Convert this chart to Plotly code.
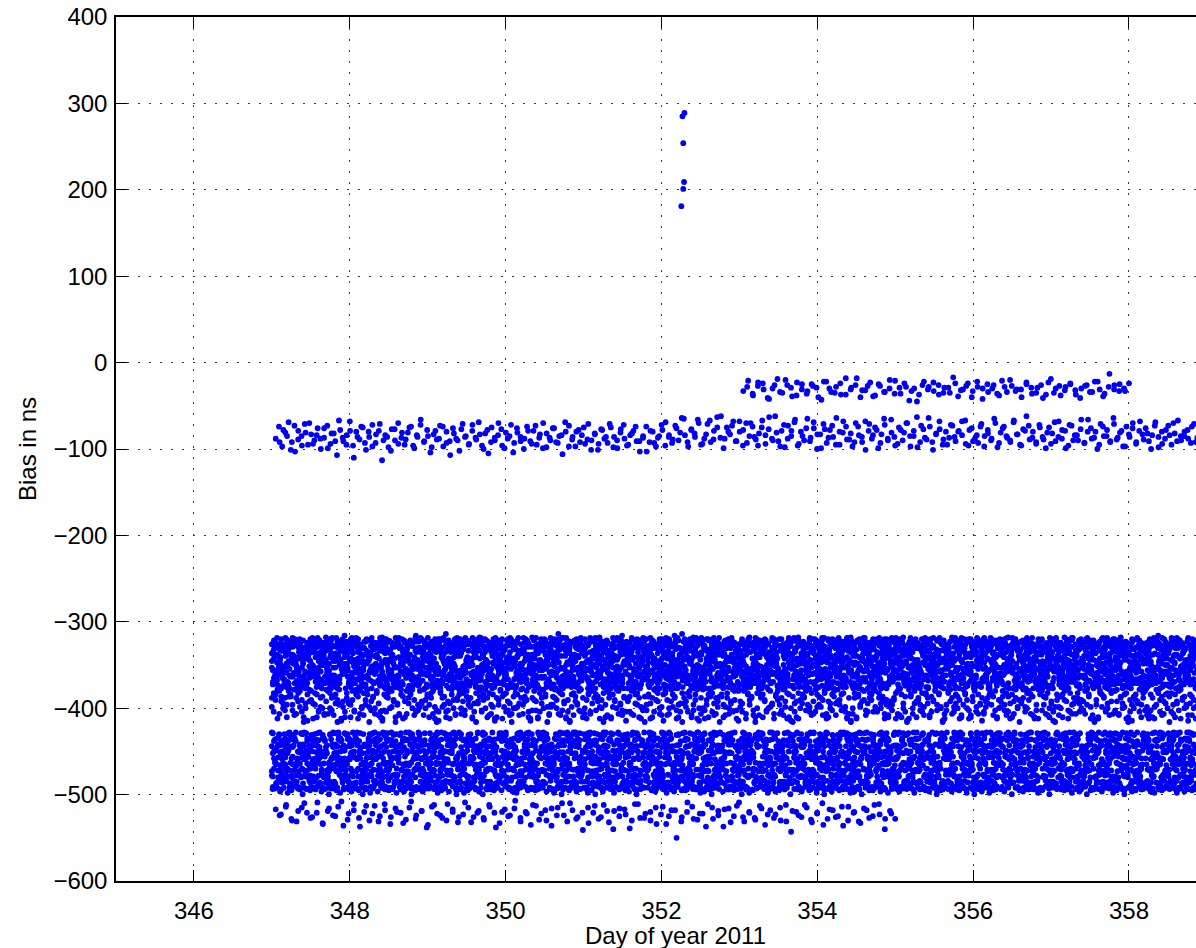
import numpy as np
import plotly.graph_objects as go

# ---- observation spans (day of year 2011) ----
DENSE_START, DENSE_END = 347.0, 359.0

# ---- isolated excursion near day 352.3 (ns) ----
spike_day = [352.295, 352.27, 352.28, 352.29, 352.28, 352.255]
spike_bias = [289, 285, 254, 209, 201, 181]

# ---- sparse bands: magnitudes of the (negative) bias in ns, in time order ----
# each band is logged by two receivers with their own epoch grids
mid_band_a = """
88 74 97 81 69 92 103 79 85 71 95 83 90 76 100 87 73 94 82 107 78 91 84 68 96 80 89 75 101 86 72 93 79 113 84 98 77 90 70 87
95 81 74 99 86 66 92 78 104 83 89 73 97 80 91 76 88 102 71 85 94 79 87 69 96 82 105 75 90 84 77 99 88 72 93 81 86 100 74 91
79 95 83 70 98 87 76 92 85 106 80 73 89 97 78 84 94 71 90 82 101 77 88 93 75 86 99 81 72 96 84 79 91 103 87 74 92 80 97 85
78 69 86 93 73 90 64 84 97 77 82 66 95 88 71 92 79 63 87 99 75 83 68 91 80 96 70 85 74 89
82 67 94 77 88 62 91 79 98 73 85 69 96 80 90 65 87 76 100 83 71 93 78 86 64 95 81 74 89 97 70 84 92 68 79 88 75 99 83 72
90 66 86 94 78 81 70 97 85 63 92 77 89 74 101 82 68 95 80 87 73 91 79 84 67 96 76 88 93 71 85 78 90 65 98 81 74 87 92 69
83 95 77 62 89 80 94 72 86 99 75 82 91 68 88 79 96 73 84 90 66 93 80 76 87 100 71 85 78 92 64 89 81 97 74 86 70 94 79 83
76 91 84 69 98 80 88 73 95 82 67 90 85 78 93 71 87 102 75 84
"""
mid_band_b = """
92 78 85 101 73 89 96 81 70 94 84 88 76 99 82 91 67 87 95 79 110 86 74 93 80 97 83 71 90 86 102 77 94 81 89 75 96 84 72 91
85 98 79 88 74 93 107 82 90 77 86 95 72 89 83 100 78 92 87 70 96 81 85 104 76 91 88 79 94 73 87 99 82 90 76 93 84 69 97 86
80 92 75 89 101 83 94 78 86 71 98 90 77 88 95 82 74 91 85 103 79 93 87 72 96 84 89 76 81 65 92 78 86 70 94 83 67 89 75 62
88 80 73 91 68
78 93 70 86 96 75 84 63 90 81 97 72 88 79 66 94 85 76 91 69 83 99 77 87 73 95 80 68 89 82 92 74 86 101 71 84 78 93 65 88
81 96 75 90 70 85 79 98 73 87 64 92 83 77 89 95 72 86 80 68 94 78 91 84 74 97 82 88 70 93 76 85 90 67 83 96 79 73 87 92
75 89 81 94 69 86 78 99 72 90 84 77 93 66 88 80 95 74 85 91 71 87 79 97 83 76 92 68 89 82 100 73 86 94 78 84 70 91 85 80
88 74 92 79 86
"""

branch_a = """
33 21 38 27 24 41 30 19 35 26 39 23 31 36 25 29 43 22 34 28 37 18 31 26 40 32 23 38 27 34 20 36 29 24 44 30 37 22 28 33
26 35 29 17 39 31 24 33 28 42 25 30 36 21 34 27 31 40 23 29 35 26 37 19 30 38 28 25 32 41 27 34 22 31 36 13 26 33 30 24
"""
branch_b = """
28 36 23 31 42 26 34 20 29 38 25 33 27 40 22 30 35 24 37 29 18 32 27 39 25 34 30 21 36 28 33 45 26 31 23 37 29 35 24 32
27 40 22 30 34 26 38 28 20 33 31 25 36 29 41 23 35 27 32 24 37 30 26 34 22 39 28 31 25 33
"""

low_a = """
517 523 512 528 531 515 521 526 509 533 519 524 514 536 522 511 527 520 530 513 525 518 534 516 521 529 508 524 519 538 514 522 527 511 520 532 523 515 526 519
529 512 521 533 517 524 507 527 520 535 513 522 530 516 524 510 531 518 526 541 515 521 528 512 532 519 525 517 539 511 527 522 530 515 523 534 518 550 526 520
514 529 522 511 528 519 537 516 525 509 531 521 527 513 535 518 523 530 512 543 520 526 515 532 522 510 528 518 525 536 514 521 531 516 527 512 523 540 519 528
"""
low_b = """
524 514 530 519 510 527 521 534 516 525 508 529 518 537 513 522 531 511 526 520 533 515 528 519 535 512 524 530 517 526 509 532 521 527 514 538 520 525 516 531
522 512 529 518 536 515 524 510 528 521 533 513 526 519 540 516 523 530 511 527 520 534 514 525 518 531 509 528 522 537 515 524 517 532 513 526 520 529 516 523
527 515 531 519 524 512 529 521 535 517 526 514 530 520 533 518 525 511 528 522
"""

# (magnitudes, first day, last day)
sparse_series = [
    (mid_band_a, 347.05, 359.0),
    (mid_band_b, 347.10, 358.95),
    (branch_a, 353.05, 358.0),
    (branch_b, 353.10, 357.95),
    (low_a, 347.05, 355.0),
    (low_b, 347.10, 354.95),
]

# ---- dense bands: one digit per epoch, bias = base + step * digit ----
UPPER_STEP = 6.0
upper_core = {
    -377.0: """
4729158360 2847391056 8315067294 5608132497 3962841705 7153926084 2480615937 6094728351 1837506249 9526370418
3681945270 5729036184 1460857392 8035241697 2917563048 6352980174 4806135729 0573462918 7291804365 5138796240
9246071853 3705892416 6813524097 1598036274 4072619835 8361742059 2954187360 7630295148 0427538916 5189460273
3852017469 6045283917 9713650842 2386974105 5901427638 1674085293 8257316940 4130598762 7498261035 0563749281
6285930714 3917482056 5042768193 8731095624 2169547380 4596203817 7328159406 9014836275 1653974028 3870612549
5407281936 2961358074 8139046752 6782503419 0354178269 4826937150 1593064827 7240815396 9675230148 3018697452
7562049318 1849637205 4320175986 9076842531 2615390874 5793168042 8041527639 3468901275 6187254930 0952736184
2394687510 6730914826 9158302647 4506871293 1872436059 7029563418 3645190782 8361725094 5297048361 0713859246
8150369274 4627185903 2983740516 5314926087 7069853142 1485032679 6732491850 3908617425 9241576308 4576203891
""",
    -375.5: """
5193826470 7346015829 2658493071 9031764582 4810259367 6274830915 1509627438 8362150794 3947081652 0725394186
6481273905 1937568240 8024316957 3659802174 7213945680 5846027319 0371659842 9582714063 2690483517 4158360729
7036915428 3862074195 5417239860 9804526731 1275398046 6391840572 4729056183 0548371962 8163927504 2950618437
4625801397 9178352640 0893741256 6341209875 3587462019 1026985734 7460139528 5219874306 8704563192 3936207481
1578046293 6402938175 9361507842 2847619530 5093287416 7625134098 0184756329 4738290651 3915462807 8260371945
6947312085 2085463917 4716820359 8530197264 1392685740 5804731926 7269048153 9153672480 3421809576 0678254139
9320754618 5761493802 1248376950 7093581246 3657029184 8416295307 2975813064 6132740859 4509168273 0884539621
2716980354 8459021763 6093847125 3274165098 9501732846 4138956270 7862403519 1347689052 5620318947 9285407136
4063291587 1592846370 7830512694 5468973012 0217654839 8945120376 3372095618 6609438751 2186754903 7521369480
""",
    -374.0: """
8372610459 3018947265 6594132807 1260785934 9738206154 4851397620 2106845793 7643059218 5489721036 0925613874
3617048295 9452736108 1280594637 7806321549 5043917862 2368450971 8791263405 4175089326 6932704518 0524876193
1846395027 7029158436 4361720985 9587403612 2713956840 6140287359 3896514072 8452639701 0274081563 5609372814
7983150426 2418697350 5736024189 0159376248 8647219503 3205841967 9520763184 1873592640 6391408275 4062715938
2590831764 8156203497 3418975620 6702348159 1965032748 5384176092 0837529416 7201964853 4679850321 9143287605
6027549183 1763082954 9495136720 3250617849 8586273041 2719458306 4072391568 7348605297 5261840739 0938172465
3854926710 6287034159 1530798642 8149265307 4903817526 7062451983 2675139840 9318706254 0456982173 5791324068
9162483057 4638192705 7024569381 2587306914 6341825079 0893746152 3710958426 1456037298 8279641530 5014283796
1786054329 9345271806 5012683947 3694150728 7530942681 2168375094 8407519263 6921084375 4253796108 0879362514
""",
    -372.5: """
6058193742 2719460385 9482307516 4105876239 7326951408 1873240695 5690718324 3247085961 8915362047 0461539782
4385902716 7032618459 1897450263 6524183097 3149726580 9671035842 2806594317 5213847690 0768239154 8459160273
5926473018 1384096527 8670325149 3051782964 6497218305 2135906478 7748351092 4062587319 9319640285 1587023946
2763189405 6925740831 3418052697 0592376148 8254619730 4873205916 1306987452 7641358029 5182064387 9037415268
7841526093 3069817254 6257390418 9413062785 1798254630 5620478139 2354196807 8086731542 4927845301 0715382964
3192758046 8541063927 2605847319 7936215804 4378592061 1059378426 6824103759 9467520183 0283916574 5730649218
9507384612 4216957830 7843026195 1358749260 6090185347 3752460918 5189237604 2624817093 8471396250 0936548172
1670283945 5398724106 3025169874 8942510367 2714086593 6583937021 0457862139 9126340785 4301958627 7862015349
4239516078 0754839261 8586024713 3193678540 6847210396 1378549602 5062193847 9715386024 2930741568 6409852731
""",
}

# ragged top edge of the upper band
EDGE_TOP_BASE, EDGE_TOP_STEP = -330.0, 2.0
upper_edge = """
2130412503 1420631207 3152041306 2415032170 4231508213 0342161403 2513042316 0241358120 3140251603 2417031520
1305241708 3261405132 0423150631 4120352014 6302143051 2431604213 0512340261 3401521430 2613045120 3142056213
4021350142 3605213041 2531406123 0421357102 4130520316
"""

FRINGE_STEP = 4.0
upper_fringe = {
    -416.0: """
7381964759 8527693048 6915837426 9472805163 7659381942 5806749231 8374960528 1697842359 6248579103 9753618427
8462957130 6938472581 7591836204 4827569317 9613748025 5749286130 8265937418 3978614052 7186495273 6392857140
5817396428 9246871530 7639258147 4158932760 8527463919 6391857204 2786349518 9572618403 6148795326 3857291648
9265843170 4718569237 8393746152 6571928430 1849675328 7236958401 5967384125 8412693857 3678529146 9523186740
6734982151 8957246308 2489613576 7346958120 5198734269 9627481035 4863579218 7159326840 3586917452 8241695037
""",
    -414.5: """
4869275317 7392846150 9658134729 2837569041 8516397248 6943728510 3789461529 7125896334 5967182430 8471359626
9283764158 5736918240 1697483527 8459276103 6318597424 7962835160 4875391268 2593746819 8146925370 6729581437
3751968240 8629473158 5487136902 9361785247 7148259630 4592867318 8716394527 6239481075 1865739482 9474682153
7596384120 2817496358 6943857261 4368291570 9725163848 5176938402 3892457619 8631794250 2459873164 7387512946
5948627139 9372815046 4716938252 8563297410 6184735982 3927548160 7659183423 1498672587 8215396740 5764938218
""",
}

LOWER_STEP = 7.0
lower_dense = {
    -494.0: """
3685172940 5247368192 7918453026 1563824795 8402657139 2876139547 6135948270 4792056318 9350871624 0627493851
5184736290 7836254918 2569018743 6341975820 4798503162 1452368970 8237641595 3916782054 6073451829 9581240736
2749863015 6058317429 4813592670 8265740193 1397286054 5624801937 3981657420 7406239518 0532984761 8169375243
4570291638 1382756904 9746318025 3528064179 6813479250 2095138647 7264905813 5431872096 8657023419 1928546370
6341529708 8619473052 3087265941 7254918306 0962347518 4173850629 5806192734 9238761405 2419607853 7750438129
1896350427 4721693805 6358017294 2043586179 8571942630 3614829057 9482305716 6125734089 7356481920 0837261594
5203748619 9465182073 1730694528 6892375140 3248109657 7561438920 2917456308 8354026791 4086597132 6679310248
8427063195 2198547360 7653928014 4310786259 9025471836 5738162940 1469850372 3852694107 6547318209 0291647853
3164985720 6873219405 0542761839 5286340917 1798053264 8640127593 4317598620 9025816347 2783459061 7148936502
""",
    -493.0: """
7250413968 1694827305 4381506729 9725360148 2956781430 6813249057 0467935812 5349178620 8102654397 3578942061
6839271504 3206485917 9571634280 1842097365 7495312806 5028763149 2764150938 8637429510 4193856072 0918564723
4125698370 8760342159 2396185407 7053629841 5614870932 9487213065 1738946250 3259071684 6843502719 2571938046
9406387521 5839124067 1267850394 6485973210 3092416758 7715308462 4381657920 0626839147 8159472036 5943260817
2731940856 7162859043 8590613472 3417586209 6928041735 1054397268 5863120974 9497635182 0349276510 4680158397
8365712409 0543896172 6217054983 1789430625 4652187309 9370561842 3096824517 7831249056 5127908364 2458613790
1592678043 6928403517 3745169280 8051736492 2479085136 5136472908 7264950381 4793186025 9810524673 0387162945
6074239815 3451978620 9802613574 2136854097 7685249031 4318906752 0941375268 8569420137 1257693840 5726831409
4817506392 8269143750 2653890147 7031625489 5496317028 1789452603 6328074915 3940581276 8015269734 9462738051
""",
    -492.0: """
2968405173 6415379082 8732160495 3059487216 7184925630 4627301859 1590846327 9348152706 5873690214 0216754938
7523810469 3980472615 6157938024 2849160357 8361725940 0794536281 5438209617 1682947053 9206358741 4875103692
6049273158 1537860429 4982617305 8376054912 2615398740 7830142659 3194587026 5468230971 9721964083 0357829416
3810957264 9274631085 7653289140 1429506837 5086743219 8962170543 2357894016 6731428950 4598016327 7146593208
8592146730 2306879514 5148023967 9617352408 0893415726 3471968052 7265130894 1934786205 6802459371 4519207638
1357690842 7841253096 3926718405 6083947521 8710534269 2459861730 5642079183 9128306574 0376195428 6984512037
5726038914 4092685173 8613479052 1875260349 3248917605 6537042981 9061853247 2794315860 8409726135 7135084692
9483216507 1658940237 5270381964 8346129750 6925873418 0147596023 4809632175 3571084926 2634751809 5058263471
0237549186 8914706352 2796853041 4561237098 7138062945 3850419762 6293175804 9702846531 1485920673 7649318025
""",
    -491.0: """
9034687152 2758136940 5189402763 7926851304 1437069528 8562143079 3705928416 6241873095 0893561247 4378205619
1865302974 8413597026 3240761859 6197428530 5982036714 2631875049 7059364182 4726190853 9184532760 0547618293
5729146038 3096725481 8652490173 1378562049 4817036925 7243619580 0965284317 6482157903 2514938670 9190374526
6381759420 7524068319 2943185067 5069723841 8105476932 3658210794 1739645208 4815392076 7290863415 0476531982
3147520869 9862314705 6508791243 2936458017 7471093562 1089526734 5623847190 8350174629 4912865307 6735209148
8216493057 4370815692 1954267380 7589130426 3062748915 9418536201 2847091563 6195342087 0531679284 5784260319
2659038471 6103742958 9481567023 3826495170 5743016829 1267859304 8095321746 4538607192 7360284915 0912473658
7408156293 5826937014 3174208569 9052361847 6389154702 2764093581 4617825930 8943710265 1205384796 3581692740
4963271085 0147586392 6832049157 2495713608 8710632549 5354908216 7028164935 1679253480 9896147023 2413870569
""",
}

# ragged bottom edge of the lower band
EDGE_LOW_BOT_BASE, EDGE_LOW_BOT_STEP = -504.0, 1.5
lower_bottom_edge = """
7958469837 6895739648 8596374958 9674859367 5897468593 7469853796 8697548967 6985749386 9578463958 7489659378
8659748596 6978459387 5896739468 9748569837 7596849375 8697459386 6958479597 9487659368 7596948375 8469759386
5978469397 8694759368 7589469385 6978548697 9485769358
"""

X_TICKS = [346, 348, 350, 352, 354, 356, 358]
Y_TICKS = [-600, -500, -400, -300, -200, -100, 0, 100, 200, 300, 400]

MARKER = dict(color="#0000f2", size=5.8, line=dict(width=0))


def magnitudes(text):
    return -np.array(text.split(), dtype=float)


def digits(text, base, step):
    d = np.array([int(c) for c in text if c.isdigit()], dtype=float)
    return base + step * d


days, bias = [], []


def add(y, t0, t1):
    days.append(np.linspace(t0, t1, len(y)))
    bias.append(np.asarray(y, dtype=float))


for base, txt in upper_core.items():
    add(digits(txt, base, UPPER_STEP), DENSE_START, DENSE_END)
add(digits(upper_edge, EDGE_TOP_BASE, EDGE_TOP_STEP), DENSE_START + 0.02, DENSE_END)
for base, txt in upper_fringe.items():
    add(digits(txt, base, FRINGE_STEP), DENSE_START, DENSE_END)
for base, txt in lower_dense.items():
    add(digits(txt, base, LOWER_STEP), DENSE_START, DENSE_END)
add(digits(lower_bottom_edge, EDGE_LOW_BOT_BASE, EDGE_LOW_BOT_STEP), DENSE_START + 0.01, DENSE_END)
for txt, t0, t1 in sparse_series:
    add(magnitudes(txt), t0, t1)

x_all = np.concatenate(days + [np.array(spike_day, float)])
y_all = np.concatenate(bias + [np.array(spike_bias, float)])

fig = go.Figure(go.Scatter(x=x_all, y=y_all, mode="markers", marker=MARKER,
                           hoverinfo="x+y"))

grid = dict(showgrid=True, gridcolor="#3a3a3a", gridwidth=1, griddash="2px,9px",
            zeroline=False, showline=True, linecolor="black", linewidth=1.5,
            ticks="inside", ticklen=11, tickwidth=1.2, tickcolor="black")

fig.update_xaxes(range=[345, 358.86], tickvals=X_TICKS, mirror="ticks",
                 ticklabelstandoff=7, **grid)
fig.update_yaxes(range=[-600, 400], tickvals=Y_TICKS, mirror=False,
                 ticklabelstandoff=2, **grid)

fig.update_layout(
    width=1196, height=948,
    margin=dict(l=116, r=0, t=17, b=67),
    plot_bgcolor="white", paper_bgcolor="white",
    showlegend=False,
    font=dict(family="Liberation Sans, Arial, Helvetica, sans-serif", size=24, color="black"),
    annotations=[
        dict(text="Day of year 2011", xref="paper", yref="paper",
             x=(675 - 116) / 1080, y=(881 - 935) / 864,
             xanchor="center", yanchor="middle", showarrow=False,
             font=dict(size=24)),
        dict(text="Bias in ns", xref="paper", yref="paper",
             x=(27 - 116) / 1080, y=0.5, textangle=-90,
             xanchor="center", yanchor="middle", showarrow=False,
             font=dict(size=24)),
    ],
)

fig.write_html("out.html")
